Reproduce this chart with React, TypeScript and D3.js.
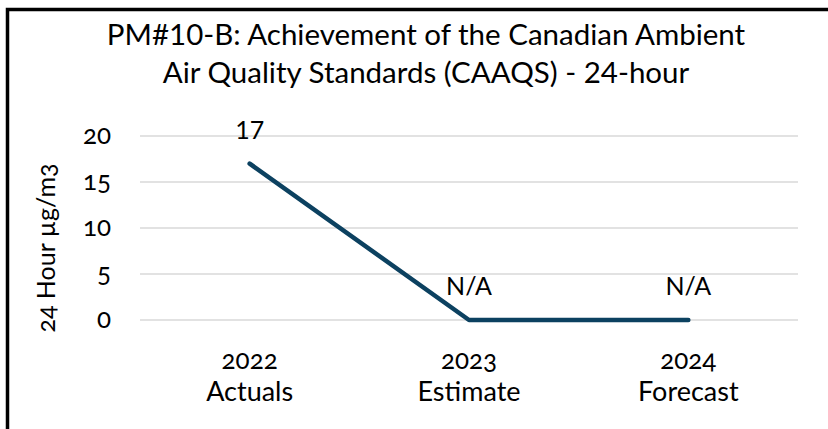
import React from "react";
import * as d3 from "d3";

const years = ["2022", "2023", "2024"];
const periods = ["Actuals", "Estimate", "Forecast"];
const values = [17, 0, 0];
const valueLabels = ["17", "N/A", "N/A"];
const yTicks = [0, 5, 10, 15, 20];
const titleLines = [
  "PM#10-B: Achievement of the Canadian Ambient",
  "Air Quality Standards (CAAQS) - 24-hour",
];
const yAxisTitle = "24 Hour µg/m3";

const W = 828;
const H = 429;
const FONT = "Lato, 'Open Sans', sans-serif";

export default function App() {
  const x = d3.scalePoint<string>().domain(years).range([140, 798]).padding(0.5);
  const y = d3.scaleLinear().domain([0, 20]).range([320, 136]);
  const line = d3
    .line<number>()
    .x((_, i) => x(years[i]) as number)
    .y((d) => y(d));

  return (
    <div style={{ position: "fixed", left: 0, top: 0, width: W, height: H, background: "#fff" }}>
      <svg width={W} height={H} style={{ display: "block", fontFamily: FONT }}>
        <rect x={0} y={0} width={W} height={H} fill="#fff" />
        <rect x={7.5} y={9.5} width={W + 20} height={H + 20} fill="none" stroke="#000" strokeWidth={3.5} />
        {titleLines.map((t, i) => (
          <text key={i} x={426} y={45 + i * 38} textAnchor="middle" fontSize={29.5} fill="#000">
            {t}
          </text>
        ))}
        {yTicks.map((t) => (
          <g key={t}>
            <line x1={140} x2={798} y1={y(t)} y2={y(t)} stroke="#d9d9d9" strokeWidth={1.5} />
            <text
              x={111}
              y={y(t)}
              dy="0.3em"
              textAnchor="end"
              fontSize={26}
              fill="#000"
              style={{ fontVariantNumeric: "oldstyle-nums" }}
            >
              {t}
            </text>
          </g>
        ))}
        <text
          transform={`translate(55,248) rotate(-90)`}
          textAnchor="middle"
          fontSize={25}
          fill="#000"
          style={{ fontVariantNumeric: "oldstyle-nums" }}
        >
          {yAxisTitle}
        </text>
        <path
          d={line(values) || ""}
          fill="none"
          stroke="#0c4160"
          strokeWidth={4.5}
          strokeLinecap="round"
          strokeLinejoin="round"
        />
        {values.map((v, i) => (
          <text key={i} x={x(years[i])} y={y(v) - 25} textAnchor="middle" fontSize={25} fill="#000">
            {valueLabels[i]}
          </text>
        ))}
        {years.map((yr, i) => (
          <g key={yr}>
            <text
              x={x(yr)}
              y={369}
              textAnchor="middle"
              fontSize={26}
              fill="#000"
              style={{ fontVariantNumeric: "oldstyle-nums" }}
            >
              {yr}
            </text>
            <text x={x(yr)} y={401} textAnchor="middle" fontSize={27} fill="#000">
              {periods[i]}
            </text>
          </g>
        ))}
      </svg>
    </div>
  );
}
